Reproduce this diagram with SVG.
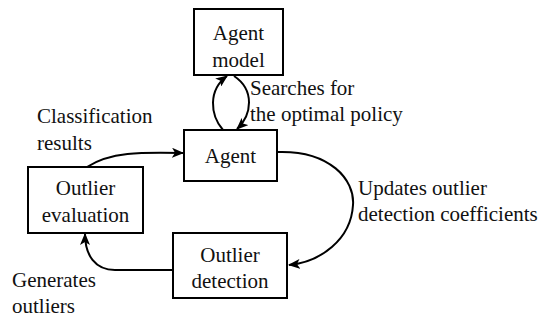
<svg xmlns="http://www.w3.org/2000/svg" width="540" height="320" viewBox="0 0 540 320">
<style>
.box{fill:#fff;stroke:#000;stroke-width:2}
.t{font-family:'Liberation Serif','Times New Roman','DejaVu Serif',serif;font-size:21px;fill:#111}
.c{text-anchor:middle}
.e{fill:none;stroke:#000;stroke-width:2;marker-end:url(#ah)}
</style>
<defs>
<marker id="ah" viewBox="0 0 12 10" refX="11" refY="5" markerWidth="12" markerHeight="10" markerUnits="userSpaceOnUse" orient="auto">
<path d="M0,0 L12,5 L0,10 L3,5 Z" fill="#000"/>
</marker>
</defs>
<rect width="540" height="320" fill="#fff"/>
<g id="edges">
<path class="e" d="M223,130 C210,115 208,90 227,76"/>
<path class="e" d="M234,76 C255,90 252,115 237,129"/>
<path class="e" d="M87,167 C110,152 140,152 183,153"/>
<path class="e" d="M277,152 C330,150 355,180 353,205 C351,240 320,262 289,265"/>
<path class="e" d="M173,270 L115,270 C95,270 85,255 85,234"/>
</g>
<g id="agent-model">
<rect class="box" x="194" y="9" width="89" height="66"/>
<text class="t c" x="238.5" y="40" font-family="Liberation Serif, serif">Agent</text>
<text class="t c" x="238.5" y="67">model</text>
</g>
<g id="agent">
<rect class="box" x="184" y="130" width="93" height="51"/>
<text class="t c" x="230.5" y="163">Agent</text>
</g>
<g id="outlier-evaluation">
<rect class="box" x="28" y="167" width="115" height="66"/>
<text class="t c" x="85.5" y="195">Outlier</text>
<text class="t c" x="85.5" y="222">evaluation</text>
</g>
<g id="outlier-detection">
<rect class="box" x="173" y="233" width="114" height="65"/>
<text class="t c" x="230" y="262">Outlier</text>
<text class="t c" x="230" y="288">detection</text>
</g>
<g id="labels">
<text class="t" x="250" y="95">Searches for</text>
<text class="t" x="250" y="121">the optimal policy</text>
<text class="t" x="37" y="123">Classification</text>
<text class="t" x="37" y="150">results</text>
<text class="t" x="358" y="195">Updates outlier</text>
<text class="t" x="358" y="221">detection coefficients</text>
<text class="t" x="12" y="287">Generates</text>
<text class="t" x="12" y="313">outliers</text>
</g>
</svg>
